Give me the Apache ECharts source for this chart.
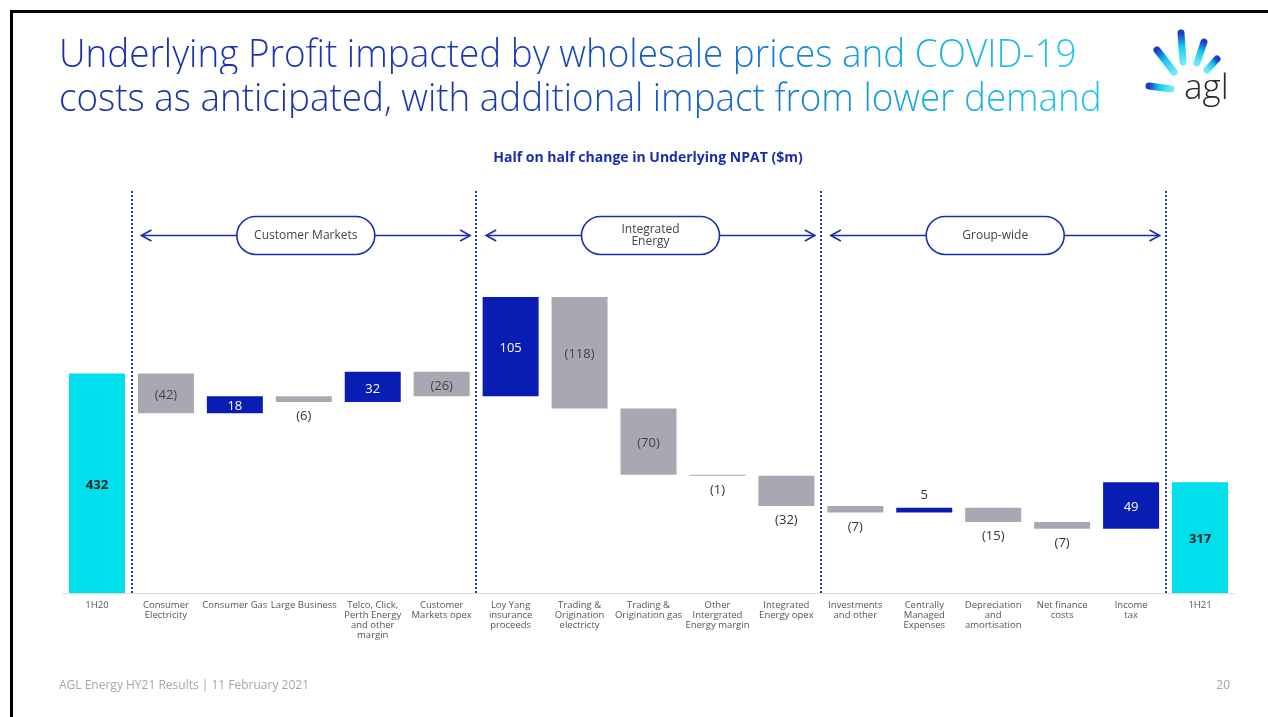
<!DOCTYPE html>
<html>
<head>
<meta charset="utf-8">
<script src="https://cdn.jsdelivr.net/npm/echarts@6/dist/echarts.min.js"></script>
<style>
  body { margin: 0; background: #fff; }
  #wrap { position: relative; width: 1268px; height: 717px; overflow: hidden; }
  #chart { position: absolute; left: 0; top: 0; width: 1268px; height: 717px; }
  .title-line {
    position: absolute;
    left: 59px;
    font-family: 'Open Sans';
    font-weight: 300;
    font-size: 38px;
    line-height: 44px;
    white-space: nowrap;
    transform-origin: 0 0;
    color: transparent;
    background: linear-gradient(90deg, #1b2ca6 0%, #1a38b0 42%, #1560c6 62%, #17a8dd 82%, #1fc8e8 100%);
    -webkit-background-clip: text;
    background-clip: text;
  }
</style>
</head>
<body>
<div id="wrap">
  <div id="chart"></div>
  <div class="title-line" id="t1" data-w="1018" style="top:30px">Underlying Profit impacted by wholesale prices and COVID-19</div>
  <div class="title-line" id="t2" data-w="1043" style="top:74px">costs as anticipated, with additional impact from lower demand</div>
</div>
<script>
const categories = [
  '1H20',
  'Consumer\nElectricity',
  'Consumer Gas',
  'Large Business',
  'Telco, Click,\nPerth Energy\nand other\nmargin',
  'Customer\nMarkets opex',
  'Loy Yang\ninsurance\nproceeds',
  'Trading &\nOrigination\nelectricty',
  'Trading &\nOrigination gas',
  'Other\nIntergrated\nEnergy margin',
  'Integrated\nEnergy opex',
  'Investments\nand other',
  'Centrally\nManaged\nExpenses',
  'Depreciation\nand\namortisation',
  'Net finance\ncosts',
  'Income\ntax',
  '1H21'
]
const values = [432, -42, 18, -6, 32, -26, 105, -118, -70, -1, -32, -7, 5, -15, -7, 49, 317]
const totals = [0, 16]
const outsideLabels = [3, 9, 10, 11, 12, 13, 14]
const sections = ['Customer Markets', 'Integrated\nEnergy', 'Group-wide']
const dividers = [1, 6, 11, 16]

// fit title lines to the slide width
document.querySelectorAll('.title-line').forEach(el => {
  const w = +el.getAttribute('data-w')
  el.style.transform = 'scaleX(' + (w / el.offsetWidth) + ')'
})

const font = 'Open Sans'
const blue = '#0A1DB3'
const gray = '#A7A8B1'
const cyan = '#00DFEC'
const navy = '#1a2db0'

const baseData = []
const barData = []
let running = 0
values.forEach((v, i) => {
  if (totals.includes(i)) {
    baseData.push(0)
    barData.push({
      value: v,
      itemStyle: { color: cyan },
      label: { position: 'inside', fontWeight: 'bold', color: '#222', offset: [0, 2] }
    })
    running = v
    return
  }
  const next = running + v
  baseData.push(Math.min(running, next))
  let label
  if (outsideLabels.includes(i)) {
    label = { position: v < 0 ? 'bottom' : 'top', color: '#333', distance: v < 0 ? 8 : 6 }
  } else {
    label = { position: 'inside', color: v > 0 ? '#fff' : '#444', offset: [0, 2] }
  }
  barData.push({
    value: Math.abs(v),
    itemStyle: { color: v > 0 ? blue : gray },
    label: label
  })
  running = next
})

const chart = echarts.init(document.getElementById('chart'))

chart.setOption({
  animation: false,
  backgroundColor: '#fff',
  textStyle: { fontFamily: font },
  grid: {
    left: 62.5,
    right: 33.5,
    top: 191,
    bottom: 124,
    containLabel: false
  },
  xAxis: [{
    type: 'category',
    data: categories,
    axisTick: { show: false },
    axisLine: { lineStyle: { color: '#dcdcdc', width: 1 } },
    axisLabel: {
      interval: 0,
      fontSize: 9.5,
      lineHeight: 10,
      color: '#555',
      margin: 7,
      fontFamily: font
    }
  }, {
    type: 'value',
    min: 0,
    max: 17,
    show: false
  }],
  yAxis: {
    type: 'value',
    min: 200,
    max: 625,
    show: false,
    splitLine: { show: false }
  },
  series: [{
    type: 'bar',
    stack: 'bridge',
    barWidth: 56,
    silent: true,
    itemStyle: { color: 'transparent' },
    data: baseData
  }, {
    type: 'bar',
    stack: 'bridge',
    barWidth: 56,
    label: {
      show: true,
      fontSize: 13,
      fontFamily: font,
      formatter: p => {
        const v = values[p.dataIndex]
        return v < 0 ? '(' + (-v) + ')' : String(v)
      }
    },
    data: barData
  }, {
    type: 'line',
    xAxisIndex: 1,
    symbol: 'none',
    data: [[0, 200]],
    markLine: {
      silent: true,
      symbol: 'none',
      label: { show: false },
      lineStyle: { type: 'dotted', color: '#2236c4', width: 2 },
      data: dividers.map(d => ({ xAxis: d }))
    }
  }]
})

// decorations: frame, logo, headings, section arrows
const graphics = [{
  type: 'rect',
  shape: { x: 11.5, y: 11.5, width: 1300, height: 800 },
  style: { fill: 'none', stroke: '#000', lineWidth: 3 }
}, {
  type: 'text',
  x: 648,
  y: 158,
  style: {
    text: 'Half on half change in Underlying NPAT ($m)',
    font: 'bold 14px "Open Sans"',
    fill: navy,
    textAlign: 'center',
    textVerticalAlign: 'middle'
  }
}, {
  type: 'text',
  x: 59,
  y: 686,
  style: {
    text: 'AGL Energy HY21 Results | 11 February 2021',
    font: '12px "Open Sans"',
    fill: '#a6a6a6',
    textVerticalAlign: 'middle'
  }
}, {
  type: 'text',
  x: 1230,
  y: 686,
  style: {
    text: '20',
    font: '12px "Open Sans"',
    fill: '#a6a6a6',
    textAlign: 'right',
    textVerticalAlign: 'middle'
  }
}, {
  type: 'text',
  x: 1184,
  y: 89,
  style: {
    text: 'agl',
    font: '300 35px "Open Sans"',
    fill: '#2a2a2a',
    textVerticalAlign: 'middle'
  }
}]

const rays = [
  [1157, 50, 1174, 72],
  [1181, 33, 1183, 62],
  [1204, 42, 1197, 63],
  [1217, 59, 1207, 70],
  [1149, 86, 1171, 89]
]
rays.forEach(r => {
  graphics.push({
    type: 'line',
    shape: { x1: r[0], y1: r[1], x2: r[2], y2: r[3] },
    style: {
      lineWidth: 7,
      lineCap: 'round',
      stroke: new echarts.graphic.LinearGradient(r[0], r[1], r[2], r[3], [
        { offset: 0, color: '#1a3cc8' },
        { offset: 0.45, color: '#12c8ee' },
        { offset: 1, color: '#6fe8f8' }
      ], true)
    }
  })
})

const arrowY = 578
sections.forEach((name, i) => {
  const a = chart.convertToPixel({ xAxisIndex: 1, yAxisIndex: 0 }, [dividers[i], arrowY])
  const b = chart.convertToPixel({ xAxisIndex: 1, yAxisIndex: 0 }, [dividers[i + 1], arrowY])
  const x1 = a[0] + 10
  const x2 = b[0] - 6
  const y = a[1]
  const cx = (x1 + x2) / 2
  const arrowStyle = { stroke: navy, lineWidth: 1.6, fill: 'none' }
  graphics.push({
    type: 'line',
    shape: { x1: x1, y1: y, x2: x2, y2: y },
    style: arrowStyle
  }, {
    type: 'polyline',
    shape: { points: [[x1 + 10, y - 5.5], [x1, y], [x1 + 10, y + 5.5]] },
    style: arrowStyle
  }, {
    type: 'polyline',
    shape: { points: [[x2 - 10, y - 5.5], [x2, y], [x2 - 10, y + 5.5]] },
    style: arrowStyle
  }, {
    type: 'rect',
    shape: { x: cx - 69, y: y - 19, width: 138, height: 38, r: 19 },
    style: { fill: '#fff', stroke: navy, lineWidth: 1.6 }
  }, {
    type: 'text',
    x: cx,
    y: y,
    style: {
      text: name,
      font: '12px "Open Sans"',
      lineHeight: 12,
      fill: '#444',
      textAlign: 'center',
      textVerticalAlign: 'middle'
    }
  })
})

chart.setOption({ graphic: graphics })
</script>
</body>
</html>
